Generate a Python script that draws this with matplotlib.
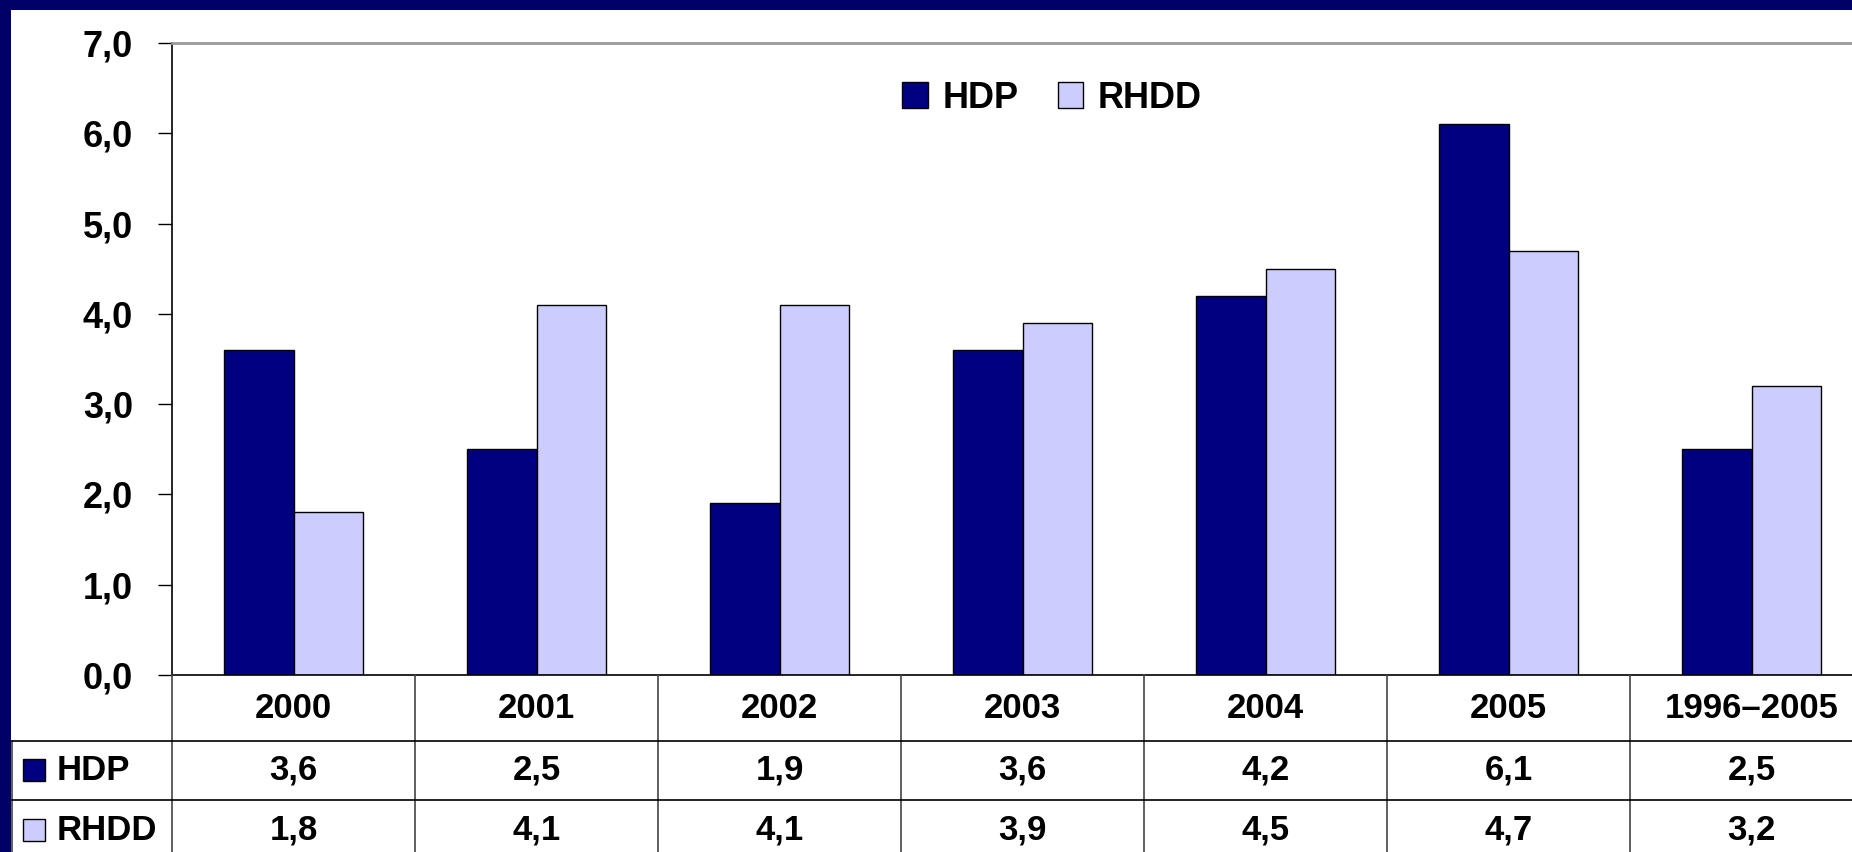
import matplotlib
matplotlib.use("Agg")
import matplotlib.pyplot as plt
from matplotlib.patches import Rectangle
import matplotlib.transforms as mtransforms

categories = ["2000", "2001", "2002", "2003", "2004", "2005", "1996\u20132005"]
hdp = [3.6, 2.5, 1.9, 3.6, 4.2, 6.1, 2.5]
rhdd = [1.8, 4.1, 4.1, 3.9, 4.5, 4.7, 3.2]
series_names = ["HDP", "RHDD"]
yticks = [0, 1, 2, 3, 4, 5, 6, 7]

NAVY = "#000080"
LILAC = "#CCCCFF"
BORDER = "#000066"

plt.rcParams['font.family'] = ['Liberation Sans', 'DejaVu Sans']
plt.rcParams['font.weight'] = 'bold'

W, H = 1852, 852
fig = plt.figure(figsize=(W / 100, H / 100), dpi=100)
fig.patch.set_facecolor("white")

# pixel helpers (top-left origin)
def fx(px):
    return px / W

def fy(py):
    return 1 - py / H

x0, x1 = 172, 1873
y_top, y_zero = 43, 675
ax = fig.add_axes([fx(x0), fy(y_zero), fx(x1 - x0), (y_zero - y_top) / H])

n = len(categories)
xs = list(range(n))
bw = 0.284
ax.bar([x - bw / 2 for x in xs], hdp, width=bw, color=NAVY, edgecolor="black",
       linewidth=1, label=series_names[0])
ax.bar([x + bw / 2 for x in xs], rhdd, width=bw, color=LILAC, edgecolor="black",
       linewidth=1, label=series_names[1])

ax.set_xlim(-0.5, n - 0.5)
ax.set_ylim(0, 7)
ax.set_yticks(yticks)
ax.set_yticklabels([f"{v:.1f}".replace(".", ",") for v in yticks])
ax.set_xticks([])
ax.tick_params(axis="y", length=10, width=1, pad=18, labelsize=26)
for lab in ax.get_yticklabels():
    lab.set_fontweight("bold")
ax.spines["right"].set_visible(False)
ax.spines["top"].set_color("#999999")
ax.spines["top"].set_linewidth(2)
ax.spines["left"].set_linewidth(1.2)
ax.spines["bottom"].set_linewidth(1.2)

ax.legend(loc="center", bbox_to_anchor=(fx(1052), fy(98)),
          bbox_transform=fig.transFigure, ncol=2, frameon=False,
          fontsize=26, handlelength=0.7, handleheight=0.7,
          handletextpad=0.4, columnspacing=1.1, prop={"weight": "bold", "size": 26})

# data table below the plot
trans = mtransforms.blended_transform_factory(ax.transData, fig.transFigure)
row_edges = [675, 741, 800, 860]
for i in range(n + 1):
    fig.add_artist(plt.Line2D([i - 0.5, i - 0.5], [fy(675), fy(860)],
                              transform=trans, color="#444444", lw=1.2))
fig.add_artist(plt.Line2D([fx(12), fx(12)], [fy(741), fy(860)],
                          transform=fig.transFigure, color="#444444", lw=1.2))
for yy in row_edges[1:3]:
    fig.add_artist(plt.Line2D([fx(12), 1], [fy(yy), fy(yy)],
                              transform=fig.transFigure, color="black", lw=1.2))

for i, cat in enumerate(categories):
    fig.text(i, fy(708), cat, transform=trans, ha="center", va="center",
             fontsize=25, fontweight="bold")
    fig.text(i, fy(770), f"{hdp[i]:.1f}".replace(".", ","), transform=trans,
             ha="center", va="center", fontsize=25, fontweight="bold")
    fig.text(i, fy(830), f"{rhdd[i]:.1f}".replace(".", ","), transform=trans,
             ha="center", va="center", fontsize=25, fontweight="bold")

for name, col, yc in [(series_names[0], NAVY, 770), (series_names[1], LILAC, 830)]:
    fig.add_artist(Rectangle((fx(23), fy(yc + 11)), fx(22), 22 / H,
                             transform=fig.transFigure, facecolor=col,
                             edgecolor="black", lw=1))
    fig.text(fx(57), fy(yc), name, ha="left", va="center",
             fontsize=25, fontweight="bold")

# navy frame along top and left
fig.add_artist(Rectangle((0, fy(10)), 1, 10 / H, transform=fig.transFigure,
                         facecolor=BORDER, edgecolor="none"))
fig.add_artist(Rectangle((0, 0), fx(11), 1, transform=fig.transFigure,
                         facecolor=BORDER, edgecolor="none"))

fig.savefig("out.png", dpi=100)
